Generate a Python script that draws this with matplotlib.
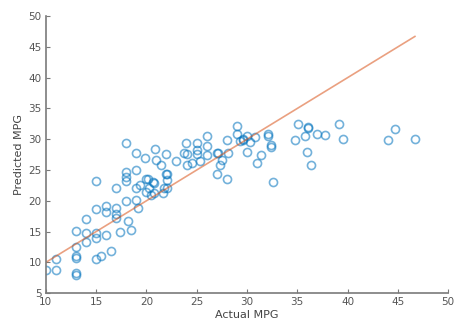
import numpy as np
import matplotlib
matplotlib.use("Agg")
import matplotlib.pyplot as plt

#%%----- data ----------------------------------------------------------------
actual = [10, 11, 11, 13, 13, 13, 13, 13, 13, 14, 14, 14,
          15, 15, 15, 15, 15, 15.5, 16, 16, 16, 16.5, 17, 17, 17, 17, 17.4,
          18, 18, 18, 18, 18.2, 18.5, 18, 19, 19, 19, 19.2, 19, 19.9, 20,
          20, 20.2, 20.3, 20.5, 20.7, 20.8, 20.8, 20.9, 21, 21.5, 21.6, 21.7,
          21.9, 21.9, 22, 22, 22, 19.4, 22.9, 23.7, 23.9, 24, 24, 24.5,
          25, 25, 25, 25.3, 26, 26, 26, 27, 27.1, 27.3, 27.5, 27, 28, 28,
          28.1, 29, 29, 29.3, 29.6, 29.6, 30, 30, 30.3, 30.8, 31, 31.4, 32.1,
          32.1, 32.4, 32.4, 32.6, 34.8, 35.1, 35.8, 36.1, 36.1, 36, 36.4,
          37, 37.8, 39.2, 39.5, 44, 44.7, 46.7]
predicted = [8.8, 8.7, 10.6, 10.7, 11.0, 7.9, 8.3, 12.5, 15.1, 17.1, 14.8, 13.3,
             23.2, 18.6, 14.7, 13.9, 10.6, 11.1, 19.2, 18.2, 14.4, 11.9, 22.1, 18.8, 17.8, 17.2, 15.0,
             20.0, 24.6, 23.8, 23.2, 16.7, 15.2, 29.4, 25.0, 22.1, 20.1, 18.8, 27.8, 26.9, 23.5,
             21.5, 23.6, 22.1, 20.9, 23.1, 22.9, 21.2, 28.4, 26.6, 25.8, 21.2, 22.0,
             27.6, 24.4, 24.4, 23.4, 22.1, 22.5, 26.4, 27.7, 29.4, 25.8, 27.6, 26.1,
             29.4, 28.2, 27.6, 26.5, 30.5, 28.9, 27.4, 27.7, 27.7, 25.8, 26.6, 24.4, 29.9, 23.5,
             27.7, 32.2, 30.9, 29.7, 29.8, 30.1, 30.5, 27.9, 29.6, 30.4, 26.1, 27.4, 30.8,
             30.6, 29.0, 28.8, 23.0, 29.9, 32.4, 30.6, 32.0, 31.8, 27.9, 25.8,
             30.8, 30.7, 32.4, 30.1, 29.9, 31.7, 30.1]

#%%----- figure ---------------------------------------------------------------
fig = plt.figure(figsize=(4.54, 3.29), dpi=100)
ax = fig.add_axes([0.101, 0.109, 0.886, 0.842])

plt.plot(actual, predicted, 'o', markersize=5.8, markerfacecolor='none',
         markeredgecolor='#0072BD', markeredgewidth=1.2, alpha=0.55)
lim = [min(actual), max(actual)]
plt.plot(lim, lim, color='#D95319', linewidth=1.2, alpha=0.55)

plt.xlim(10, 50)
plt.ylim(5, 50)
plt.xticks(np.arange(10, 51, 5))
plt.yticks(np.arange(5, 51, 5))

grey = '#7a7a7a'
ax.spines['right'].set_color('none')
ax.spines['top'].set_color('none')
ax.spines['left'].set_color(grey)
ax.spines['bottom'].set_color(grey)
ax.spines['left'].set_linewidth(1.2)
ax.spines['bottom'].set_linewidth(1.2)
ax.tick_params(direction='in', length=3, width=0.8, color=grey,
               labelsize=7.5, labelcolor='#555555', pad=3)

plt.xlabel('Actual MPG', fontsize=8, color='#444444', labelpad=2)
plt.ylabel('Predicted MPG', fontsize=8, color='#444444', labelpad=3)

plt.savefig('out.png', dpi=100)
